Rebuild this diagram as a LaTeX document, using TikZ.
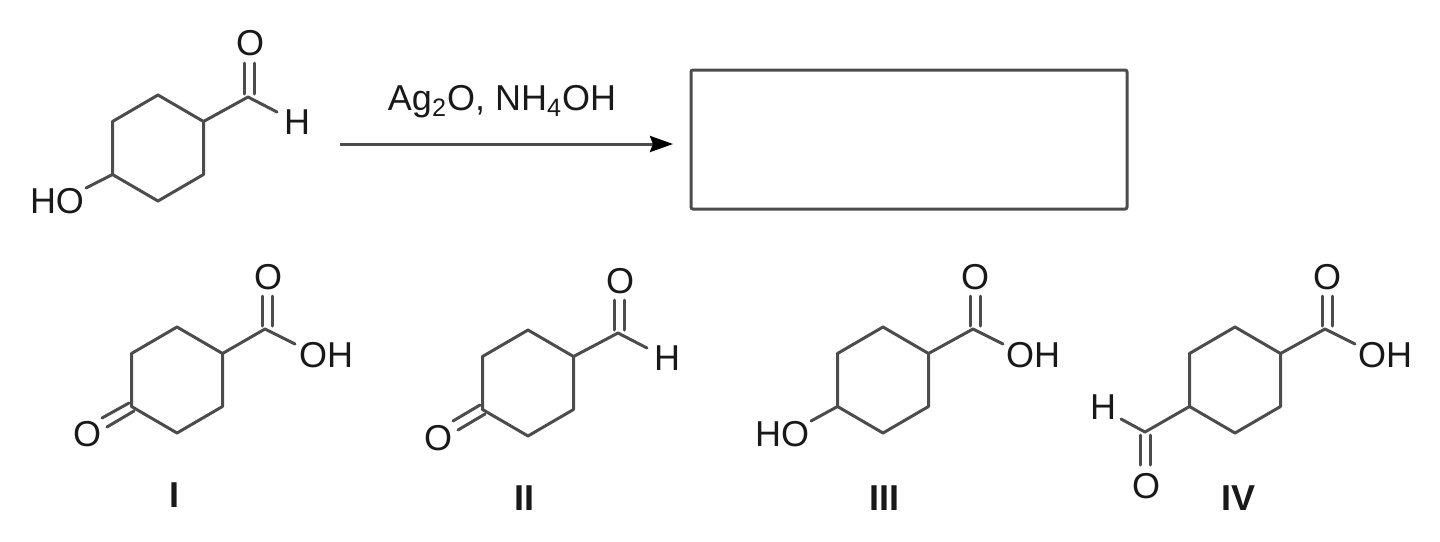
\documentclass[tikz,border=0pt]{standalone}
\usepackage{fontspec}
\setmainfont{Liberation Sans}
\usetikzlibrary{arrows.meta}
\tikzset{
  bond/.style={line width=1.5pt, draw=black!70, line cap=round, line join=round},
  atom/.style={inner sep=0pt, text=black!90, font=\fontsize{18}{20}\selectfont},
  tag/.style={inner sep=0pt, text=black!90, font=\fontsize{18}{20}\selectfont\bfseries},
}
\begin{document}
\begin{tikzpicture}[x=0.5pt,y=-0.5pt]
\useasboundingbox (0,0) rectangle (1440,541);

% rings
\foreach \n/\cx/\cy in {0/158/148, 1/177/380, 2/528/383, 3/883/380, 4/1235/380} {
  \coordinate (r\n a) at (\cx+45.5,\cy-26.5);
  \coordinate (r\n b) at (\cx,\cy-53);
  \coordinate (r\n c) at (\cx-45.5,\cy-26.5);
  \coordinate (r\n d) at (\cx-45.5,\cy+26.5);
  \coordinate (r\n e) at (\cx,\cy+53);
  \coordinate (r\n f) at (\cx+45.5,\cy+26.5);
  \draw [bond] (r\n a) -- (r\n b) -- (r\n c) -- (r\n d) -- (r\n e) -- (r\n f) -- cycle;
}

% starting material
\node [atom] (ho0) at (57,201) {HO};
\node [atom] (o0) at (250,43) {O};
\node [atom] (h0) at (297,122) {H};
\coordinate (c0) at (248,97);
\coordinate (o0l) at (244,63);
\coordinate (o0r) at (254,63);
\coordinate (c0l) at (244,94);
\coordinate (c0r) at (254,94);
\coordinate (h0end) at (277,112);
\coordinate (ho0end) at (86,188);
\draw [bond] (r0d) -- (ho0end);
\draw [bond] (r0a) -- (c0) -- (h0end);
\draw [bond] (c0l) -- (o0l);
\draw [bond] (c0r) -- (o0r);

% reaction
\node [atom] (reagent) at (502,102) {Ag\textsubscript{2}O, NH\textsubscript{4}OH};
\node [draw=black!70, line width=1.5pt, rounded corners=1pt, minimum width=218pt, minimum height=69.5pt] (product) at (909,139.5) {};
\coordinate (rxnstart) at (340,144);
\coordinate (rxnend) at (673,144);
\draw [bond, line cap=butt, -{Stealth[length=11.5pt,width=8pt,inset=1.5pt,color=black,fill=black]}] (rxnstart) -- (rxnend);

% I
\node [atom] (o1a) at (268,277) {O};
\node [atom] (oh1) at (326,355) {OH};
\node [atom] (o1b) at (87,434) {O};
\node [tag] (tagI) at (174,495) {I};
\coordinate (c1) at (265,329);
\coordinate (oh1end) at (295,344);
\coordinate (c1l) at (262,326);
\coordinate (c1r) at (272,326);
\coordinate (o1l) at (262,296);
\coordinate (o1r) at (272,296);
\coordinate (k1a) at (129,403);
\coordinate (k1b) at (102,418);
\coordinate (k1c) at (134,411);
\coordinate (k1d) at (107,427);
\draw [bond] (r1a) -- (c1) -- (oh1end);
\draw [bond] (c1l) -- (o1l);
\draw [bond] (c1r) -- (o1r);
\draw [bond] (k1a) -- (k1b);
\draw [bond] (k1c) -- (k1d);

% II
\node [atom] (o2a) at (620,281) {O};
\node [atom] (h2) at (667,358) {H};
\node [atom] (o2b) at (438,438) {O};
\node [tag] (tagII) at (524,498) {II};
\coordinate (c2) at (618,333);
\coordinate (h2end) at (647,348);
\coordinate (c2l) at (614,330);
\coordinate (c2r) at (624,330);
\coordinate (o2l) at (614,300);
\coordinate (o2r) at (624,300);
\coordinate (k2a) at (480,405);
\coordinate (k2b) at (453,421);
\coordinate (k2c) at (485,414);
\coordinate (k2d) at (458,430);
\draw [bond] (r2a) -- (c2) -- (h2end);
\draw [bond] (c2l) -- (o2l);
\draw [bond] (c2r) -- (o2r);
\draw [bond] (k2a) -- (k2b);
\draw [bond] (k2c) -- (k2d);

% III
\node [atom] (o3) at (975,277) {O};
\node [atom] (oh3) at (1033,355) {OH};
\node [atom] (ho3) at (782,434) {HO};
\node [tag] (tagIII) at (884,498) {III};
\coordinate (c3) at (973,329);
\coordinate (oh3end) at (1003,344);
\coordinate (ho3end) at (811,421);
\coordinate (c3l) at (970,326);
\coordinate (c3r) at (980,326);
\coordinate (o3l) at (970,296);
\coordinate (o3r) at (980,296);
\draw [bond] (r3d) -- (ho3end);
\draw [bond] (r3a) -- (c3) -- (oh3end);
\draw [bond] (c3l) -- (o3l);
\draw [bond] (c3r) -- (o3r);

% IV
\node [atom] (o4a) at (1327,277) {O};
\node [atom] (oh4) at (1385,355) {OH};
\node [atom] (h4) at (1103,407) {H};
\node [atom] (o4b) at (1146,486) {O};
\node [tag] (tagIV) at (1238,498) {IV};
\coordinate (c4a) at (1325,329);
\coordinate (oh4end) at (1355,344);
\coordinate (c4b) at (1145,432);
\coordinate (h4end) at (1121,419);
\coordinate (c4l) at (1322,326);
\coordinate (c4r) at (1332,326);
\coordinate (o4l) at (1322,296);
\coordinate (o4r) at (1332,296);
\coordinate (c4s) at (1140,435);
\coordinate (c4t) at (1150,435);
\coordinate (o4s) at (1140,465);
\coordinate (o4t) at (1150,465);
\draw [bond] (r4a) -- (c4a) -- (oh4end);
\draw [bond] (c4l) -- (o4l);
\draw [bond] (c4r) -- (o4r);
\draw [bond] (r4d) -- (c4b) -- (h4end);
\draw [bond] (c4s) -- (o4s);
\draw [bond] (c4t) -- (o4t);
\end{tikzpicture}
\end{document}
